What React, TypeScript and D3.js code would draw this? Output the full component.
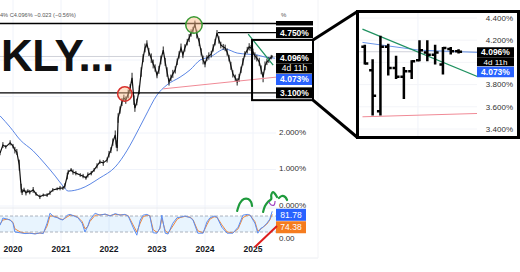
import React from 'react';
import * as d3 from 'd3';

// ---------- main price series (weekly close, %) ----------
const priceDates = [2019.73,2019.79,2019.85,2019.94,2020.00,2020.04,2020.08,2020.13,2020.17,2020.19,
2020.23,2020.27,2020.31,2020.35,2020.42,2020.48,2020.56,2020.63,2020.71,2020.77,
2020.83,2020.92,2020.98,2021.04,2021.08,2021.13,2021.15,2021.21,2021.25,2021.31,
2021.40,2021.46,2021.52,2021.56,2021.63,2021.69,2021.75,2021.81,2021.88,2021.96,
2022.00,2022.04,2022.08,2022.13,2022.15,2022.17,2022.19,2022.23,2022.27,2022.31,
2022.35,2022.40,2022.44,2022.48,2022.52,2022.54,2022.58,2022.63,2022.67,2022.71,
2022.75,2022.79,2022.83,2022.88,2022.92,2022.96,2023.00,2023.04,2023.08,2023.13,
2023.17,2023.21,2023.25,2023.29,2023.33,2023.38,2023.42,2023.46,2023.50,2023.54,
2023.58,2023.63,2023.67,2023.71,2023.75,2023.79,2023.83,2023.88,2023.92,2023.96,
2024.00,2024.04,2024.08,2024.13,2024.17,2024.21,2024.25,2024.29,2024.33,2024.38,
2024.42,2024.46,2024.50,2024.54,2024.58,2024.63,2024.67,2024.71,2024.75,2024.79,
2024.83,2024.88,2024.92,2024.96,2025.00,2025.04,2025.08,2025.13,2025.17,2025.21,
2025.25,2025.29,2025.33,2025.38,2025.40];
const priceValues = [1.45,1.67,1.62,1.73,1.64,1.53,1.48,1.12,0.49,0.38,
0.44,0.36,0.41,0.38,0.44,0.33,0.25,0.30,0.30,0.36,
0.44,0.47,0.49,0.49,0.55,0.82,0.93,0.99,0.93,0.90,
0.85,0.82,0.77,0.85,0.90,0.99,1.10,1.21,1.18,1.26,
1.42,1.53,1.75,1.95,1.70,1.59,2.41,2.63,2.85,2.96,
2.90,3.07,3.23,3.51,2.90,2.68,2.85,3.18,3.67,4.05,
4.33,4.44,4.22,4.05,3.89,3.78,3.59,3.73,4.00,4.27,
3.95,3.67,3.40,3.51,3.62,3.73,3.95,4.14,4.33,4.14,
4.33,4.49,4.60,4.74,4.82,4.98,4.71,4.49,4.22,4.00,
3.89,4.05,4.11,4.16,4.33,4.49,4.74,4.55,4.41,4.36,
4.33,4.22,4.05,3.84,3.62,3.51,3.40,3.51,3.73,3.95,
4.16,4.27,4.36,4.33,4.22,4.11,4.05,3.95,3.73,3.53,
3.84,3.95,4.00,4.08,4.096];
// weekly half-range (high-low / 2) around each close, %
const priceHalfRange = [0.06,0.08,0.05,0.07,0.06,0.09,0.08,0.15,0.12,0.08,
0.06,0.07,0.05,0.06,0.08,0.05,0.06,0.04,0.05,0.06,
0.05,0.04,0.06,0.05,0.07,0.09,0.06,0.05,0.07,0.06,
0.05,0.06,0.05,0.07,0.06,0.05,0.07,0.06,0.08,0.07,
0.09,0.08,0.10,0.12,0.10,0.09,0.13,0.10,0.11,0.09,
0.10,0.12,0.11,0.14,0.13,0.10,0.09,0.12,0.13,0.11,
0.12,0.10,0.11,0.13,0.12,0.10,0.09,0.11,0.12,0.10,
0.11,0.13,0.10,0.09,0.11,0.10,0.09,0.10,0.12,0.09,
0.10,0.09,0.11,0.10,0.09,0.10,0.12,0.11,0.10,0.12,
0.09,0.08,0.10,0.09,0.10,0.09,0.08,0.10,0.09,0.08,
0.09,0.10,0.09,0.11,0.10,0.09,0.10,0.11,0.09,0.10,
0.08,0.09,0.10,0.08,0.09,0.10,0.09,0.11,0.12,0.14,
0.12,0.09,0.08,0.06,0.03];

// ---------- moving average ----------
const maDates = [2019.73,2019.94,2020.15,2020.42,2020.67,2020.88,2021.04,2021.15,2021.40,2021.81,2022.13,2022.38,2022.50,2022.75,2023.00,2023.21,2023.48,2023.69,2023.90,2024.10,2024.42,2024.67,2024.88,2025.08,2025.25,2025.46];
const maValues = [2.47,2.16,1.81,1.51,1.15,0.82,0.55,0.41,0.47,0.77,1.07,1.53,1.81,2.44,3.04,3.32,3.53,3.73,4.00,4.08,4.30,4.19,4.16,4.14,4.08,4.05];

// ---------- RSI pane ----------
const rsiDates = [2019.73,2019.79,2019.88,2019.94,2020.00,2020.04,2020.15,2020.25,2020.35,2020.46,
2020.56,2020.63,2020.71,2020.77,2020.85,2020.92,2020.98,2021.04,2021.13,2021.19,
2021.27,2021.35,2021.44,2021.50,2021.56,2021.60,2021.71,2021.81,2021.92,2022.02,
2022.13,2022.23,2022.33,2022.40,2022.50,2022.58,2022.65,2022.71,2022.79,2022.85,
2022.92,2023.00,2023.06,2023.10,2023.17,2023.23,2023.33,2023.42,2023.48,2023.58,
2023.69,2023.75,2023.85,2023.96,2024.04,2024.10,2024.19,2024.25,2024.35,2024.46,
2024.58,2024.69,2024.79,2024.88,2024.94,2025.04,2025.10,2025.17,2025.21,2025.29,
2025.35,2025.40];
const rsiValues = [47,65,62,60,52,30,28,26,27,25,
28,26,52,77,68,66,62,60,72,74,
70,66,52,30,45,60,77,72,75,70,
76,72,74,70,42,22,60,72,74,70,
28,27,40,72,27,25,52,66,67,70,
66,60,27,27,55,65,70,67,42,27,
27,42,72,74,72,52,27,40,42,52,
62,81.78];
const rsiMaValues = [50,60,62,60,54,38,30,27,27,26,
27,27,45,70,70,67,63,61,68,72,
71,67,56,38,44,56,72,73,74,71,
74,73,73,71,48,30,52,68,72,71,
36,29,38,64,34,27,45,62,66,69,
67,61,33,28,48,62,68,67,48,30,
28,38,66,72,72,56,32,38,42,50,
60,74.38];

// ---------- axes ----------
const yearTicks = [2020, 2021, 2022, 2023, 2024, 2025];
const gridYields = [0, 1, 2, 3, 4];
const labeledYields = [0, 1, 2];
const labeledYieldText = ['0.000%', '1.000%', '2.000%'];
const levelLines = [5.0, 4.75, 3.1];

// ---------- drawings ----------
const pinkTrend = [[2023.13, 3.21], [2025.48, 3.53]];
const greenTrend = [[2024.90, 4.71], [2025.42, 3.86]];
const redCircle = [2022.33, 3.07];
const greenCircle = [2023.77, 4.96];
const zoomBox = { from: 2024.98, top: 4.55, bottom: 2.90 };
const lastPrice = 4.096;
const greenSquiggles = [
  [[2024.67, 82.5], [2024.73, 102.5], [2024.81, 112.5], [2024.90, 112.5], [2024.96, 105], [2024.98, 95]],
  [[2025.21, 80], [2025.25, 95], [2025.31, 105], [2025.38, 112.5], [2025.38, 122.5], [2025.42, 130], [2025.46, 125], [2025.50, 117.5]],
  [[2025.54, 115], [2025.60, 120], [2025.67, 117.5], [2025.71, 110]],
];
const purpleMark = [[2025.33, 105], [2025.38, 97.5], [2025.44, 97.5], [2025.46, 107.5]];
const redArrow = [[2025.04, -7.5], [2025.5, 45]];

// ---------- inset (weekly OHLC) ----------
const insetOpen = [4.14, 3.93, 3.56, 4.14, 3.95, 3.87, 3.92, 4.02, 4.09, 4.07, 3.98, 4.12, 4.10];
const insetHigh = [4.15, 4.02, 4.23, 4.16, 4.05, 3.95, 4.01, 4.19, 4.19, 4.15, 4.13, 4.13, 4.11];
const insetLow = [3.99, 3.53, 3.53, 3.89, 3.86, 3.68, 3.86, 4.02, 4.02, 3.99, 3.90, 4.08, 4.09];
const insetClose = [3.99, 3.70, 4.14, 3.95, 3.87, 3.92, 4.01, 4.11, 4.07, 4.09, 4.13, 4.10, 4.096];
const insetGrid = [4.4, 4.2, 4.0, 3.8, 3.6, 3.4];
const insetTicks = [4.4, 4.2, 3.8, 3.6, 3.4];
const insetTickLabels = ['4.400%', '4.200%', '3.800%', '3.600%', '3.400%'];
const insetGreen = [[-0.3, 4.30], [14.5, 3.87]];
const insetBlue = [[-0.3, 4.18], [7, 4.11], [14.5, 4.09]];
const insetPink = [[-0.3, 3.51], [14.5, 3.54]];

const FONT = "'Liberation Sans', Arial, sans-serif";

function Tag({ x0, w, y0, h, fill, text, color = '#fff', size = 8.5, weight = 'bold' }: any) {
  return (
    <g>
      <rect x={x0} y={y0} width={w} height={h} fill={fill} />
      <text x={x0 + w / 2} y={y0 + h / 2} dy="0.35em" textAnchor="middle" fill={color}
        fontSize={size} fontWeight={weight} fontFamily={FONT}>{text}</text>
    </g>
  );
}

export default function App() {
  const W = 520, H = 272;
  const plotRight = 276;
  const x = d3.scaleLinear().domain([2020, 2025]).range([13, 253]);
  const y = d3.scaleLinear().domain([0, 2]).range([206, 133]);
  const rY = d3.scaleLinear().domain([0, 100]).range([244, 204]);

  const price = priceDates.map((d, i) => [d, priceValues[i]] as [number, number]);
  const ma = maDates.map((d, i) => [d, maValues[i]] as [number, number]);
  const rsi = rsiDates.map((d, i) => [d, rsiValues[i]] as [number, number]);
  const rsiMa = rsiDates.map((d, i) => [d, rsiMaValues[i]] as [number, number]);

  const mainLine = d3.line<number[]>().x(d => x(d[0])).y(d => y(d[1]));
  const maLine = d3.line<number[]>().x(d => x(d[0])).y(d => y(d[1])).curve(d3.curveMonotoneX);
  const rsiLine = d3.line<number[]>().x(d => x(d[0])).y(d => rY(d[1]));
  const drawLine = d3.line<number[]>().x(d => x(d[0])).y(d => rY(d[1])).curve(d3.curveCatmullRom);

  // inset scales
  const ix = d3.scaleLinear().domain([-1, 15]).range([357, 482]);
  const iy = d3.scaleLinear().domain([3.4, 4.4]).range([129, 18]);
  const insetLine = d3.line<number[]>().x(d => ix(d[0])).y(d => iy(d[1]));

  const boxL = 357.5, boxT = 11.5, boxR = 518.5, boxB = 137.5;
  const zoomL = x(zoomBox.from), zoomT = y(zoomBox.top), zoomB = y(zoomBox.bottom), zoomR = 313;

  return (
    <svg width={W} height={H} style={{ position: 'fixed', left: 0, top: 0, background: '#fff' }}
      fontFamily={FONT}>
      <defs>
        <clipPath id="mainClip"><rect x={0} y={0} width={plotRight} height={208} /></clipPath>
        <clipPath id="rsiClip"><rect x={0} y={204} width={plotRight} height={44} /></clipPath>
        <clipPath id="insetClip"><rect x={boxL} y={boxT} width={477 - boxL} height={boxB - boxT} /></clipPath>
      </defs>

      {/* grid */}
      {yearTicks.map(t => (
        <line key={'vg' + t} x1={x(t)} x2={x(t)} y1={0} y2={244} stroke="#f0f3fa" strokeWidth={1} />
      ))}
      {gridYields.map(t => (
        <line key={'hg' + t} x1={0} x2={plotRight} y1={y(t)} y2={y(t)} stroke="#f0f3fa" strokeWidth={1} />
      ))}
      <line x1={0} x2={plotRight + 20} y1={208} y2={208} stroke="#e8eaef" />
      <line x1={0} x2={318} y1={258} y2={258} stroke="#eceef2" />
      <line x1={318} x2={318} y1={0} y2={258} stroke="#f2f3f6" />

      {/* RSI pane */}
      <rect x={0} y={rY(70)} width={plotRight} height={rY(30) - rY(70)} fill="rgba(33,150,243,0.1)" />
      {[70, 30].map(v => (
        <line key={'rl' + v} x1={0} x2={plotRight} y1={rY(v)} y2={rY(v)} stroke="#9aa1ad" strokeDasharray="3,2" strokeWidth={0.8} />
      ))}
      <g clipPath="url(#rsiClip)">
        <path d={rsiLine(rsiMa) || ''} fill="none" stroke="#f0883a" strokeWidth={1} />
        <path d={rsiLine(rsi) || ''} fill="none" stroke="#5c8ef2" strokeWidth={1} />
      </g>

      {/* main pane */}
      <g clipPath="url(#mainClip)">
        <line x1={0} x2={plotRight} y1={y(lastPrice)} y2={y(lastPrice)} stroke="#c4c7cf" strokeWidth={0.8} />
        <path d={maLine(ma) || ''} fill="none" stroke="#5b86e5" strokeWidth={1} />
        <g stroke="#222" strokeWidth={1}>
          {price.map((p, i) => (
            <line key={'hl' + i} x1={x(p[0])} x2={x(p[0])}
              y1={y(p[1] + priceHalfRange[i])} y2={y(p[1] - priceHalfRange[i])} />
          ))}
        </g>
        <path d={mainLine(price) || ''} fill="none" stroke="#111" strokeWidth={1.2} strokeLinejoin="miter" />
        <path d={mainLine(pinkTrend) || ''} fill="none" stroke="#f08a96" strokeWidth={1} />
        <path d={mainLine(greenTrend) || ''} fill="none" stroke="#1f9160" strokeWidth={1.3} />
      </g>
      {levelLines.map((v, i) => (
        <line key={'lv' + v} x1={i === 1 ? x(2024.27) : 0} x2={plotRight + 2} y1={y(v)} y2={y(v)} stroke="#000" strokeWidth={1.3} />
      ))}

      <circle cx={x(redCircle[0])} cy={y(redCircle[1])} r={7.2} fill="rgba(255,190,140,0.45)" stroke="#d9302c" strokeWidth={1.5} />
      <circle cx={x(greenCircle[0])} cy={y(greenCircle[1])} r={8.2} fill="rgba(255,190,140,0.5)" stroke="#3a9a34" strokeWidth={1.5} />

      {/* header texts */}
      <text x={0} y={17} fontSize={5.6} fill="#555">4%  C4.096%  −0.023 (−0.56%)</text>
      <text x={1} y={71} fontSize={44} fontWeight="bold" fill="#111" letterSpacing={-0.5}>KLY...</text>

      {/* x axis */}
      {yearTicks.map(t => (
        <text key={'yl' + t} x={x(t)} y={252} fontSize={8.5} fontWeight={600} fill="#131722" textAnchor="middle">{t}</text>
      ))}

      {/* right axis */}
      <text x={281} y={17} fontSize={6} fill="#555">%</text>
      {labeledYields.map((t, i) => (
        <text key={'yt' + t} x={279} y={y(t) - 1} dy="0.35em" fontSize={8} fill="#333">{labeledYieldText[i]}</text>
      ))}
      <text x={279} y={241} fontSize={8} fill="#333">0.00</text>
      <rect x={276} y={21} width={37} height={4.5} fill="#000" />
      <Tag x0={276} w={37} y0={y(4.75) - 5.5} h={11} fill="#000" text="4.750%" />
      <Tag x0={276} w={37} y0={y(lastPrice) - 3.5} h={10.5} fill="#000" text="4.096%" />
      <Tag x0={276} w={37} y0={y(lastPrice) + 7} h={10} fill="#000" text="4d 11h" weight="normal" />
      <Tag x0={276} w={37} y0={y(lastPrice) + 17.5} h={11} fill="#2962ff" text="4.073%" />
      <Tag x0={276} w={37} y0={y(3.1) - 5.5} h={11} fill="#000" text="3.100%" />

      <Tag x0={276} w={30} y0={rY(81.78) - 2.5} h={12} fill="#2962ff" text="81.78" weight="normal" size={8.5} />
      <Tag x0={276} w={30} y0={rY(74.38) + 7} h={12} fill="#f57c1f" text="74.38" weight="normal" size={8.5} />

      {/* hand drawings */}
      {greenSquiggles.map((s, i) => (
        <path key={'gs' + i} d={drawLine(s) || ''} fill="none" stroke="#1e9a3c" strokeWidth={2.2} strokeLinecap="round" />
      ))}
      <path d={drawLine(purpleMark) || ''} fill="none" stroke="#a23fc0" strokeWidth={1.2} />
      <path d={rsiLine(redArrow) || ''} fill="none" stroke="#dd1d1d" strokeWidth={2} />

      {/* zoom rectangle + connectors */}
      <rect x={zoomL} y={zoomT} width={zoomR - zoomL} height={zoomB - zoomT} fill="none" stroke="#000" strokeWidth={2} />
      <line x1={zoomR} y1={zoomT} x2={boxL} y2={boxT} stroke="#000" strokeWidth={3} />
      <line x1={zoomR} y1={zoomB} x2={boxL} y2={boxB} stroke="#000" strokeWidth={3} />

      {/* inset */}
      <rect x={boxL} y={boxT} width={boxR - boxL} height={boxB - boxT} fill="#fff" />
      <line x1={ix(6.8)} x2={ix(6.8)} y1={boxT} y2={boxB} stroke="#f0f3fa" />
      {insetGrid.map(t => (
        <line key={'ig' + t} x1={boxL} x2={477} y1={iy(t)} y2={iy(t)} stroke="#f3f4f8" />
      ))}
      <g clipPath="url(#insetClip)">
        <line x1={boxL} x2={477} y1={iy(lastPrice)} y2={iy(lastPrice)} stroke="#c4c7cf" strokeWidth={0.8} />
        <path d={insetLine(insetBlue) || ''} fill="none" stroke="#6a95e8" strokeWidth={1} />
        <path d={insetLine(insetPink) || ''} fill="none" stroke="#f08a96" strokeWidth={1} />
        <path d={insetLine(insetGreen) || ''} fill="none" stroke="#1f9160" strokeWidth={1.3} />
        {insetOpen.map((o, i) => {
          const cx = ix(i);
          return (
            <g key={'bar' + i} stroke="#000" strokeWidth={2.5}>
              <line x1={cx} x2={cx} y1={iy(insetHigh[i]) - 1} y2={iy(insetLow[i]) + 1} />
              <line x1={cx - 3.5} x2={cx} y1={iy(o)} y2={iy(o)} />
              <line x1={cx} x2={cx + 3.5} y1={iy(insetClose[i])} y2={iy(insetClose[i])} />
            </g>
          );
        })}
      </g>
      {insetTicks.map((t, i) => (
        <text key={'it' + t} x={513} y={iy(t)} dy="0.35em" fontSize={8} fill="#333" textAnchor="end">{insetTickLabels[i]}</text>
      ))}
      <Tag x0={477} w={37} y0={iy(lastPrice) - 4.5} h={10} fill="#000" text="4.096%" size={8.5} />
      <Tag x0={477} w={37} y0={iy(lastPrice) + 5.5} h={9} fill="#000" text="4d 11h" size={8} weight="normal" />
      <Tag x0={477} w={37} y0={iy(lastPrice) + 15} h={10.5} fill="#2962ff" text="4.073%" size={8.5} />
      <rect x={boxL} y={boxT} width={boxR - boxL} height={boxB - boxT} fill="none" stroke="#000" strokeWidth={3} />
    </svg>
  );
}
